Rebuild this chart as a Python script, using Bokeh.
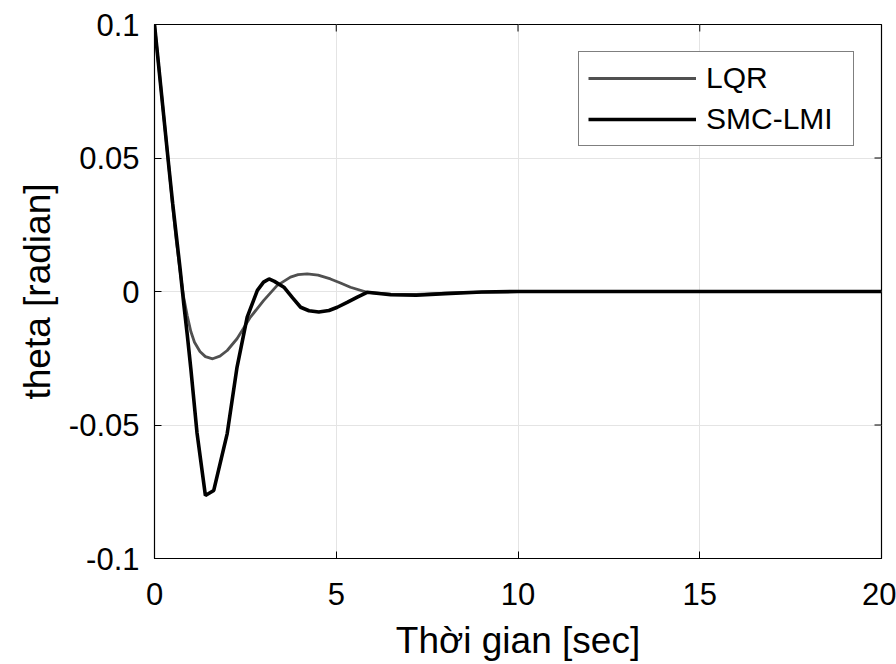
import math
from bokeh.plotting import figure
from bokeh.models import Range1d, FixedTicker, Legend, LegendItem
from bokeh.embed import file_html
from bokeh.resources import INLINE

# ---- data ----
t_lqr = [0, 0.2, 0.4, 0.5, 0.6, 0.7, 0.8, 0.9, 1.0, 1.1, 1.25, 1.4, 1.6, 1.8, 2.0, 2.27, 2.64,
         3.0, 3.37, 3.74, 3.95, 4.2, 4.5, 4.84, 5.1, 5.39, 5.85, 6.5, 7.2, 8.0, 9.0, 10, 12, 15, 20]
theta_lqr = [0.1, 0.073, 0.046, 0.032, 0.019, 0.008, -0.002, -0.009, -0.015, -0.019, -0.0225,
             -0.0244, -0.0252, -0.0242, -0.0221, -0.0177, -0.0096, -0.0034, 0.0022, 0.0054,
             0.0063, 0.0066, 0.0061, 0.0047, 0.0033, 0.0016, -0.0003, -0.001, -0.0011, -0.0006,
             -0.0002, 0, 0, 0, 0]

t_smc = [0, 0.2, 0.4, 0.5, 0.6, 0.7, 0.8, 0.9, 1.0, 1.17, 1.4, 1.63, 2.0, 2.27, 2.55, 2.83,
         3.0, 3.15, 3.3, 3.56, 3.8, 4.02, 4.25, 4.52, 4.8, 5.03, 5.3, 5.58, 5.85, 6.5, 7.2,
         8.0, 9.0, 10, 12, 15, 20]
theta_smc = [0.1, 0.073, 0.046, 0.033, 0.021, 0.009, -0.004, -0.016, -0.029, -0.053, -0.0764,
             -0.0745, -0.0532, -0.0284, -0.0096, 0.0004, 0.0035, 0.0047, 0.0038, 0.0016,
             -0.0024, -0.0059, -0.0072, -0.0077, -0.0071, -0.0059, -0.0041, -0.0021, -0.0003,
             -0.0012, -0.0014, -0.0008, -0.0002, 0, 0, 0, 0]

x_ticks = [0, 5, 10, 15, 20]
y_ticks = [-0.1, -0.05, 0, 0.05, 0.1]
y_tick_labels = ["-0.1", "-0.05", "0", "0.05", "0.1"]
x_label = "Thời gian [sec]"
y_label = "theta [radian]"
series_names = ["LQR", "SMC-LMI"]

FONT = "Liberation Sans"
X0, X1 = 0, 20
Y0, Y1 = -0.1, 0.1

p = figure(width=896, height=664, output_backend="svg", toolbar_location=None,
           x_range=Range1d(X0, X1), y_range=Range1d(Y0, Y1),
           min_border_left=154, min_border_right=15, min_border_top=24, min_border_bottom=106)
p.background_fill_color = "white"
p.border_fill_color = "white"
p.outline_line_color = "black"
p.outline_line_width = 1.2

# grids
p.xgrid.ticker = FixedTicker(ticks=x_ticks)
p.ygrid.ticker = FixedTicker(ticks=y_ticks)
p.grid.grid_line_color = "#e4e4e4"
p.grid.grid_line_width = 1

# main axes
for ax in p.xaxis + p.yaxis:
    ax.axis_line_color = "black"
    ax.major_tick_line_color = "black"
    ax.major_tick_in = 7
    ax.major_tick_out = 0
    ax.minor_tick_line_color = None
    ax.major_label_text_font = FONT
    ax.major_label_text_font_size = "31px"
    ax.major_label_text_color = "black"
    ax.axis_label_text_font = FONT
    ax.axis_label_text_font_size = "37px"
    ax.axis_label_text_font_style = "normal"
    ax.axis_label_text_color = "black"

p.xaxis.ticker = FixedTicker(ticks=x_ticks)
p.yaxis.ticker = FixedTicker(ticks=y_ticks)
p.yaxis.major_label_overrides = {v: s for v, s in zip(y_ticks, y_tick_labels)}
p.xaxis.major_label_standoff = 24
p.yaxis.major_label_standoff = 15
p.xaxis.axis_label = x_label
p.yaxis.axis_label = y_label
p.xaxis.axis_label_standoff = 12
p.yaxis.axis_label_standoff = 8

# box ticks on the top and right edges (inward, 7 px)
p.ray(x=x_ticks, y=[Y1] * len(x_ticks), length=7, length_units="screen",
      angle=-math.pi / 2, line_color="black", line_width=1)
p.ray(x=[X1] * len(y_ticks), y=y_ticks, length=7, length_units="screen",
      angle=math.pi, line_color="black", line_width=1)

r1 = p.line(t_lqr, theta_lqr, line_color="#505050", line_width=2.8)
r2 = p.line(t_smc, theta_smc, line_color="black", line_width=3.6)

legend = Legend(items=[LegendItem(label=series_names[0], renderers=[r1]),
                       LegendItem(label=series_names[1], renderers=[r2])],
                location=(424, 412))
legend.label_text_font = FONT
legend.label_text_font_size = "30px"
legend.label_text_color = "black"
legend.glyph_width = 108
legend.label_standoff = 10
legend.label_width = 138
legend.padding = 9
legend.spacing = 7
legend.border_line_color = "black"
legend.border_line_width = 1.2
legend.background_fill_color = "white"
legend.background_fill_alpha = 1
p.add_layout(legend, "center")

open("out.html", "w").write(file_html(p, INLINE))
